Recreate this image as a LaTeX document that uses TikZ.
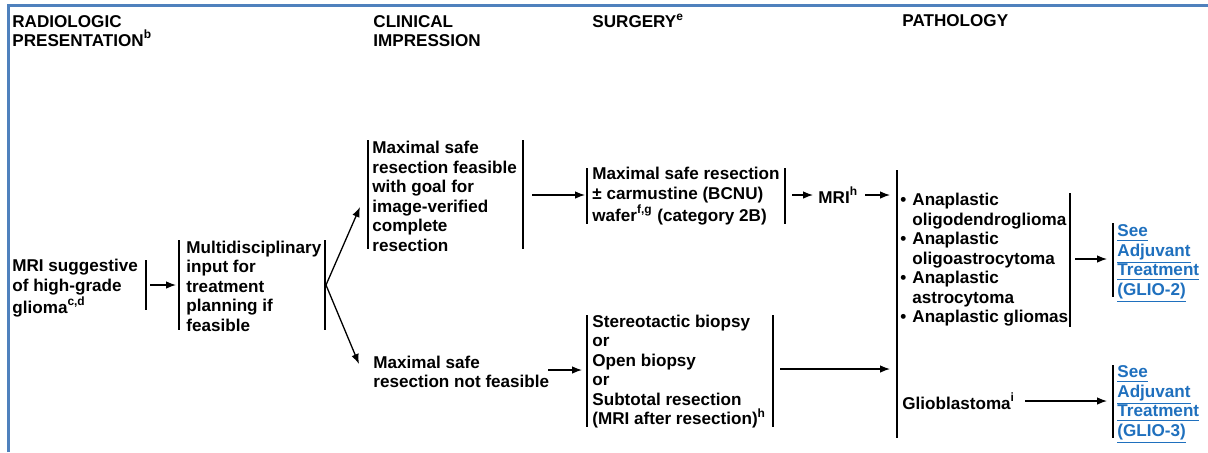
\documentclass[tikz,border=0pt]{standalone}
\usepackage{fontspec}
\setmainfont{Liberation Sans}
\usetikzlibrary{arrows.meta}
\definecolor{frameblue}{RGB}{79,129,189}
\definecolor{linkblue}{RGB}{31,112,190}
\newcommand{\lk}[1]{\underline{#1}}
\newcommand{\bul}{\makebox[6pt][l]{\textbullet}}
\newcommand{\ind}{\hspace*{6pt}}
\begin{document}
\begin{tikzpicture}[x=0.5pt,y=-0.5pt,
 txt/.style={anchor=west,inner sep=0pt,align=left,font=\bfseries\fontsize{8.55}{9.75}\selectfont},
 linktxt/.style={txt,text=linkblue},
 bar/.style={line width=0.75pt},
 arr/.style={line width=0.65pt,-{Latex[length=5pt,width=3.8pt]}}]
\useasboundingbox (0,0) rectangle (1208,452);
\fill[white] (0,0) rectangle (1208,452);
\draw[frameblue,line width=1.5pt,line join=miter] (8,452) -- (8,5) -- (1208,5);

% headers
\node[txt] (hrad) at (12,31) {RADIOLOGIC\\PRESENTATION\textsuperscript{b}};
\node[txt] (hcli) at (373,31) {CLINICAL\\IMPRESSION};
\node[txt] (hsur) at (592,21) {SURGERY\textsuperscript{e}};
\node[txt] (hpat) at (902,21) {PATHOLOGY};

% nodes
\node[txt] (mri) at (12,288) {MRI suggestive\\of high-grade\\glioma\textsuperscript{c,d}};
\node[txt] (multi) at (186,286) {Multidisciplinary\\input for\\treatment\\planning if\\feasible};
\node[txt] (feas) at (372,196.5) {Maximal safe\\resection feasible\\with goal for\\image-verified\\complete\\resection};
\node[txt] (notfeas) at (373,372) {Maximal safe\\resection not feasible};
\node[txt] (surg1) at (592,196) {Maximal safe resection\\\textpm\ carmustine (BCNU)\\wafer\textsuperscript{f,g} (category 2B)};
\node[txt] (mrih) at (818,195) {MRI\textsuperscript{h}};
\node[txt] (surg2) at (592,371.5) {Stereotactic biopsy\\or\\Open biopsy\\or\\Subtotal resection\\(MRI after resection)\textsuperscript{h}};
\node[txt] (path) at (900,260) {\bul Anaplastic\\\ind oligodendroglioma\\\bul Anaplastic\\\ind oligoastrocytoma\\\bul Anaplastic\\\ind astrocytoma\\\bul Anaplastic gliomas};
\node[txt] (glio) at (902,401) {Glioblastoma\textsuperscript{i}};
\node[linktxt] (link2) at (1117,264) {\lk{See}\\\lk{Adjuvant}\\\lk{Treatment}\\\lk{(GLIO-2)}};
\node[linktxt] (link3) at (1117,405) {\lk{See}\\\lk{Adjuvant}\\\lk{Treatment}\\\lk{(GLIO-3)}};

% bars
\draw[bar] (146,260) -- (146,310);
\draw[bar] (179,240) -- (179,330);
\draw[bar] (325,240) -- (325,330);
\draw[bar] (368,140) -- (368,249);
\draw[bar] (523,140) -- (523,249);
\draw[bar] (587,168) -- (587,224);
\draw[bar] (785,168) -- (785,224);
\draw[bar] (587,315) -- (587,427);
\draw[bar] (773,315) -- (773,427);
\draw[bar] (897,170) -- (897,438);
\draw[bar] (1070,193) -- (1070,327);
\draw[bar] (1113,223) -- (1113,297);
\draw[bar] (1113,365) -- (1113,438);

% connector coordinates
\coordinate (mriR) at (150,285);
\coordinate (multiL) at (176,285);
\coordinate (fork) at (326,285);
\coordinate (feasIn) at (360,207);
\coordinate (notIn) at (359,364);
\coordinate (feasR) at (532,195);
\coordinate (surg1L) at (585,195);
\coordinate (notR) at (548,370);
\coordinate (surg2L) at (582,370);
\coordinate (surg1R) at (792,195);
\coordinate (mrihL) at (813,195);
\coordinate (mrihR) at (865,195);
\coordinate (pathL) at (890,195);
\coordinate (surg2R) at (780,369);
\coordinate (pathL2) at (890,369);
\coordinate (listR) at (1075,259);
\coordinate (link2L) at (1107,259);
\coordinate (glioR) at (1025,401);
\coordinate (link3L) at (1107,401);

\draw[arr] (mriR) -- (multiL);
\draw[arr] (fork) -- (feasIn);
\draw[arr] (fork) -- (notIn);
\draw[arr] (feasR) -- (surg1L);
\draw[arr] (notR) -- (surg2L);
\draw[arr] (surg1R) -- (mrihL);
\draw[arr] (mrihR) -- (pathL);
\draw[arr] (surg2R) -- (pathL2);
\draw[arr] (listR) -- (link2L);
\draw[arr] (glioR) -- (link3L);
\end{tikzpicture}
\end{document}
